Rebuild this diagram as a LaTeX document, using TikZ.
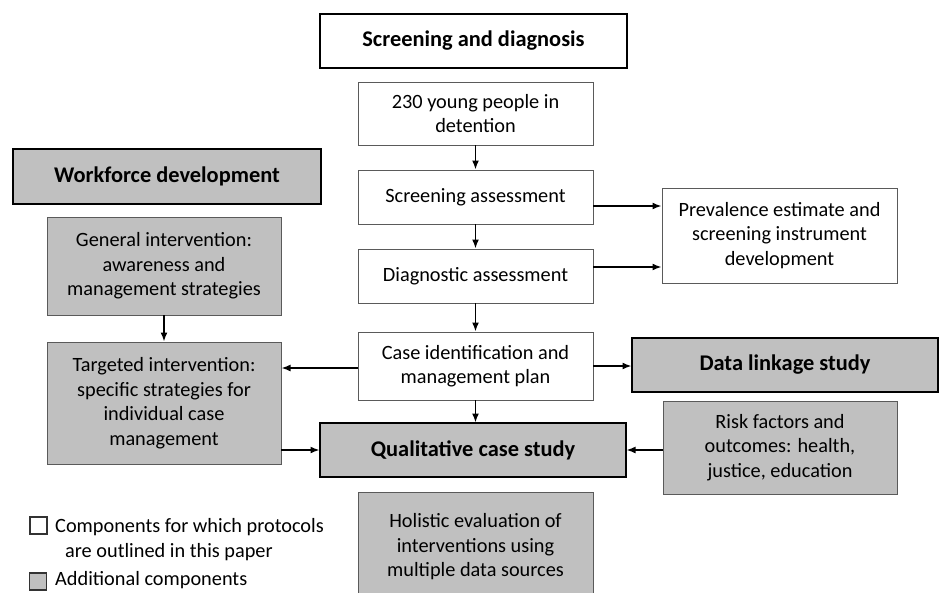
\documentclass[tikz,border=0pt]{standalone}
\usepackage{fontspec}
\setmainfont{Carlito}
\usetikzlibrary{arrows.meta}
\definecolor{boxgray}{RGB}{192,192,192}
\definecolor{edgegray}{RGB}{90,90,90}
\begin{document}
\begin{tikzpicture}[x=1pt,y=-1pt,
  box/.style={draw=edgegray, line width=0.9pt, align=center, inner sep=0pt, outer sep=0pt,
    font=\fontsize{20.3}{24.5}\selectfont},
  hbox/.style={draw=black, line width=2pt, align=center, inner sep=0pt, outer sep=0pt,
    font=\fontsize{22.4}{26}\selectfont\bfseries},
  wf/.style={fill=white},
  gf/.style={fill=boxgray},
  arr/.style={-{Latex[length=9pt,width=7pt]}, line width=1.6pt, shorten >=0.5pt},
  legtext/.style={anchor=west, inner sep=0pt, font=\fontsize{20.3}{24.5}\selectfont}
]
\useasboundingbox (0,0) rectangle (944,592);
\clip (0,0) rectangle (944,592);

% central column
\node[hbox,wf,minimum width=307,minimum height=54] (sd) at (473.5,41) {Screening and diagnosis};
\node[box,wf,minimum width=235,minimum height=63] (young) at (475.5,113.5) {230 young people in\\detention};
\node[box,wf,minimum width=235,minimum height=54] (scr) at (475.5,197) {Screening assessment};
\node[box,wf,minimum width=235,minimum height=54] (diag) at (475.5,276) {Diagnostic assessment};
\node[box,wf,minimum width=235,minimum height=68] (case) at (475.5,366) {Case identification and\\management plan};
\node[hbox,gf,minimum width=306,minimum height=54] (qual) at (473,450) {Qualitative case study};
\node[box,gf,minimum width=235,minimum height=110] (hol) at (475.5,547) {Holistic evaluation of\\interventions using\\multiple data sources};

% left column
\node[hbox,gf,minimum width=308,minimum height=55] (wd) at (167,176.5) {Workforce development};
\node[box,gf,minimum width=234,minimum height=98] (gen) at (164,266) {General intervention:\\awareness and\\management strategies};
\node[box,gf,minimum width=234,minimum height=122] (tar) at (164,403) {Targeted intervention:\\specific strategies for\\individual case\\management};

% right column
\node[box,wf,minimum width=235,minimum height=95] (prev) at (779.5,235.5) {Prevalence estimate and\\screening instrument\\development};
\node[hbox,gf,minimum width=306,minimum height=54] (dl) at (785,365) {Data linkage study};
\node[box,gf,minimum width=234,minimum height=93] (risk) at (780,447.5) {Risk factors and\\outcomes: health,\\justice, education};

% connectors
\draw[arr] (young) -- (scr);
\draw[arr] (scr) -- (diag);
\draw[arr] (diag) -- (case);
\draw[arr] (case) -- (case |- qual.north);
\draw[arr] (scr.east |- 0,206) -- (prev.west |- 0,206);
\draw[arr] (diag.east |- 0,267) -- (prev.west |- 0,267);
\draw[arr] (gen) -- (tar);
\draw[arr] (case.west |- 0,368) -- (tar.east |- 0,368);
\draw[arr] (tar.east |- 0,450) -- (qual.west |- 0,450);
\draw[arr] (case.east |- 0,366) -- (dl.west |- 0,366);
\draw[arr] (risk.west |- 0,450) -- (qual.east |- 0,450);

% legend
\node[draw=black!80, line width=1.2pt, fill=white, minimum size=17, inner sep=0pt] (lw) at (38.5,525.5) {};
\node[legtext] (lt1) at (55,527) {Components for which protocols};
\node[legtext] (lt2) at (65,552) {are outlined in this paper};
\node[draw=black!80, line width=1.2pt, fill=boxgray, minimum size=17, inner sep=0pt] (lg) at (38,581.5) {};
\node[legtext] (lt3) at (55,580.5) {Additional components};
\end{tikzpicture}
\end{document}
